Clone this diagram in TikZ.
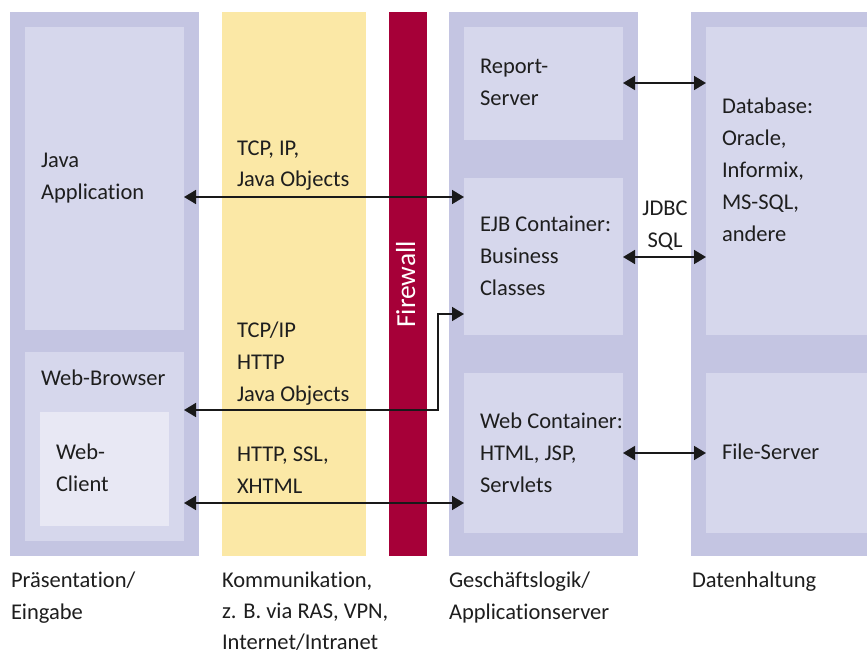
\documentclass[tikz,border=0pt]{standalone}
\usepackage{fontspec}
\setmainfont{Carlito}[Ligatures={NoCommon}]
\usetikzlibrary{arrows.meta}
\definecolor{outerc}{RGB}{196,197,226}
\definecolor{innerc}{RGB}{214,215,236}
\definecolor{clientc}{RGB}{232,232,244}
\definecolor{yellowc}{RGB}{251,232,166}
\definecolor{redc}{RGB}{166,0,56}
\definecolor{txtc}{RGB}{30,30,30}
\tikzset{
  band/.style={draw=none, inner sep=0, outer sep=0, anchor=north west},
  lbl/.style={inner sep=0, outer sep=0, anchor=base west, align=left, text=txtc,
    font=\fontsize{22.5}{32}\selectfont},
  dbl/.style={line width=1.6pt, draw=black!90, {Triangle[length=12pt,width=14pt]}-{Triangle[length=12pt,width=14pt]}},
}
\begin{document}
\begin{tikzpicture}[x=1pt,y=-1pt]
\clip (0,0) rectangle (867,655);
\fill[white] (0,0) rectangle (867,655);
% columns
\node[band, fill=outerc, minimum width=189pt, minimum height=544pt] (col1) at (10,12) {};
\node[band, fill=yellowc, minimum width=144pt, minimum height=544pt] (col2) at (222,12) {};
\node[band, fill=redc, minimum width=38pt, minimum height=544pt] (fw) at (389,12) {};
\node[band, fill=outerc, minimum width=189pt, minimum height=544pt] (col3) at (449,12) {};
\node[band, fill=outerc, minimum width=200pt, minimum height=544pt] (col4) at (691,12) {};
% inner boxes
\node[band, fill=innerc, minimum width=159pt, minimum height=303pt] (javaapp) at (25,27) {};
\node[band, fill=innerc, minimum width=159pt, minimum height=189pt] (browser) at (25,352) {};
\node[band, fill=clientc, minimum width=129pt, minimum height=114pt] (client) at (40,412) {};
\node[band, fill=innerc, minimum width=159pt, minimum height=113pt] (report) at (464,27) {};
\node[band, fill=innerc, minimum width=159pt, minimum height=157pt] (ejb) at (464,178) {};
\node[band, fill=innerc, minimum width=159pt, minimum height=160pt] (webc) at (464,373) {};
\node[band, fill=innerc, minimum width=180pt, minimum height=308pt] (db) at (706,27) {};
\node[band, fill=innerc, minimum width=180pt, minimum height=160pt] (fs) at (706,373) {};
% firewall label
\node[inner sep=0, anchor=base west, rotate=90, text=white, font=\fontsize{27.5}{30}\selectfont] (fwl) at (415,328) {Firewall};
% labels (anchor = baseline of the last line)
\node[lbl] (tja) at (41,200) {Java\\Application};
\node[lbl] (tc1) at (237,187) {TCP, IP,\\Java Objects};
\node[lbl] (tc2) at (237,401) {TCP/IP\\HTTP\\Java Objects};
\node[lbl] (tc3) at (237,493) {HTTP, SSL,\\XHTML};
\node[lbl] (twb) at (41,385) {Web-Browser};
\node[lbl] (twc) at (56,491) {Web-\\Client};
\node[lbl] (trs) at (480,106) {Report-\\Server};
\node[lbl] (tejb) at (480,295) {EJB Container:\\Business\\Classes};
\node[lbl] (twebc) at (480,492) {Web Container:\\HTML, JSP,\\Servlets};
\node[lbl] (tdb) at (722,241) {Database:\\Oracle,\\Informix,\\MS-SQL,\\andere};
\node[lbl] (tfs) at (722,459) {File-Server};
\node[lbl, anchor=base, align=center] (tjdbc) at (665,247) {JDBC\\SQL};
\node[lbl] (b1) at (11,619) {Präsentation/\\Eingabe};
\node[lbl, font=\fontsize{22.5}{31}\selectfont] (b2) at (222,649) {Kommunikation,\\z. B. via RAS, VPN,\\Internet/Intranet};
\node[lbl] (b3) at (449,619) {Geschäftslogik/\\Applicationserver};
\node[lbl] (b4) at (692,587) {Datenhaltung};
% connectors
\coordinate (y1) at (0,197);
\coordinate (y2) at (0,83);
\coordinate (y3) at (0,257);
\coordinate (y4a) at (0,314);
\coordinate (y4b) at (0,410);
\coordinate (x4) at (438,0);
\coordinate (y5) at (0,503);
\coordinate (y6) at (0,453);
\draw[dbl] (javaapp.east |- y1) -- (ejb.west |- y1);
\draw[dbl] (report.east |- y2) -- (db.west |- y2);
\draw[dbl] (ejb.east |- y3) -- (db.west |- y3);
\draw[dbl] (browser.east |- y4b) -- (x4 |- y4b) -- (x4 |- y4a) -- (ejb.west |- y4a);
\draw[dbl] (browser.east |- y5) -- (webc.west |- y5);
\draw[dbl] (webc.east |- y6) -- (fs.west |- y6);
\end{tikzpicture}
\end{document}
